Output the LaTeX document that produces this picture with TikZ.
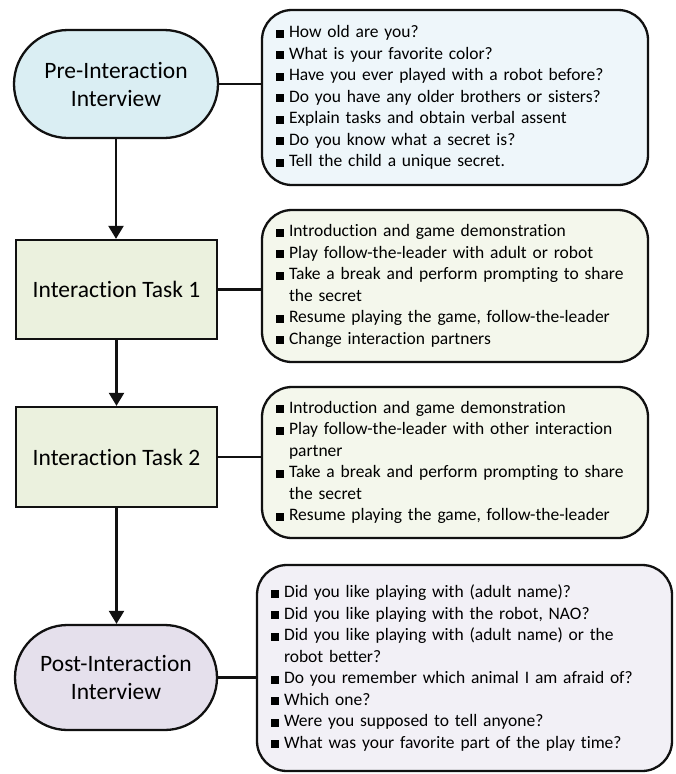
\documentclass[tikz,border=0pt]{standalone}
\usepackage{fontspec}
\setmainfont{Carlito}[RawFeature=-liga]
\usetikzlibrary{arrows.meta,shapes.misc}
\definecolor{stadA}{HTML}{DAEEF3}
\definecolor{boxA}{HTML}{EEF6FA}
\definecolor{taskF}{HTML}{EBF1DE}
\definecolor{boxB}{HTML}{F4F7EC}
\definecolor{stadB}{HTML}{E5E0EC}
\definecolor{boxC}{HTML}{F2F0F6}
\definecolor{edge}{HTML}{111111}
\newcommand{\bx}{\makebox[13pt][l]{\rule{8pt}{8pt}}}
\newcommand{\ind}{\hspace*{13pt}}
\begin{document}
\begin{tikzpicture}[x=1pt,y=-1pt,
  stadium/.style={rounded rectangle, draw=edge, line width=2.3pt, align=center,
    minimum height=#1, inner sep=0pt, font=\fontsize{23.5}{28}\selectfont},
  taskbox/.style={rectangle, draw=edge, line width=2.3pt, fill=taskF, align=center,
    minimum width=201pt, minimum height=#1, inner sep=0pt, font=\fontsize{23.5}{28}\selectfont},
  listbox/.style={rectangle, draw=edge, line width=2.3pt, rounded corners=30pt,
    align=left, inner xsep=14pt, inner ysep=0pt, font=\fontsize{17.5}{21.5}\selectfont},
  link/.style={draw=edge, line width=2.3pt},
  flow/.style={draw=edge, line width=2.3pt, -{Triangle[width=15pt,length=13pt]}}
]
\useasboundingbox (0,0) rectangle (675,774);

\node[stadium=108pt, fill=stadA, minimum width=204pt] (pre) at (116,84) {Pre-Interaction\\Interview};
\node[taskbox=99pt] (t1) at (116.5,289.5) {Interaction Task 1};
\node[taskbox=100pt] (t2) at (116.5,457) {Interaction Task 2};
\node[stadium=105pt, fill=stadB, minimum width=202pt] (post) at (116,677.5) {Post-Interaction\\Interview};

\node[listbox, fill=boxA, text width=358pt, minimum height=175pt] (l1) at (455,97.5) {%
\bx How old are you?\\
\bx What is your favorite color?\\
\bx Have you ever played with a robot before?\\
\bx Do you have any older brothers or sisters?\\
\bx Explain tasks and obtain verbal assent\\
\bx Do you know what a secret is?\\
\bx Tell the child a unique secret.};

\node[listbox, fill=boxB, text width=358pt, minimum height=152pt] (l2) at (455,286) {%
\bx Introduction and game demonstration\\
\bx Play follow-the-leader with adult or robot\\
\bx Take a break and perform prompting to share\\
\ind the secret\\
\bx Resume playing the game, follow-the-leader\\
\bx Change interaction partners};

\node[listbox, fill=boxB, text width=358pt, minimum height=151pt] (l3) at (455,462.5) {%
\bx Introduction and game demonstration\\
\bx Play follow-the-leader with other interaction\\
\ind partner\\
\bx Take a break and perform prompting to share\\
\ind the secret\\
\bx Resume playing the game, follow-the-leader};

\node[listbox, fill=boxC, text width=387pt, minimum height=206pt] (l4) at (464.5,668) {%
\bx Did you like playing with (adult name)?\\
\bx Did you like playing with the robot, NAO?\\
\bx Did you like playing with (adult name) or the\\
\ind robot better?\\
\bx Do you remember which animal I am afraid of?\\
\bx Which one?\\
\bx Were you supposed to tell anyone?\\
\bx What was your favorite part of the play time?};

\draw[link] (pre.east) -- (pre.east -| l1.west);
\draw[link] (t1.east) -- (t1.east -| l2.west);
\draw[link] (t2.east) -- (t2.east -| l3.west);
\draw[link] (post.east) -- (post.east -| l4.west);

\draw[flow] (pre.south) -- (pre.south |- t1.north);
\draw[flow] (t1.south) -- (t1.south |- t2.north);
\draw[flow] (t2.south) -- (t2.south |- post.north);
\end{tikzpicture}
\end{document}
